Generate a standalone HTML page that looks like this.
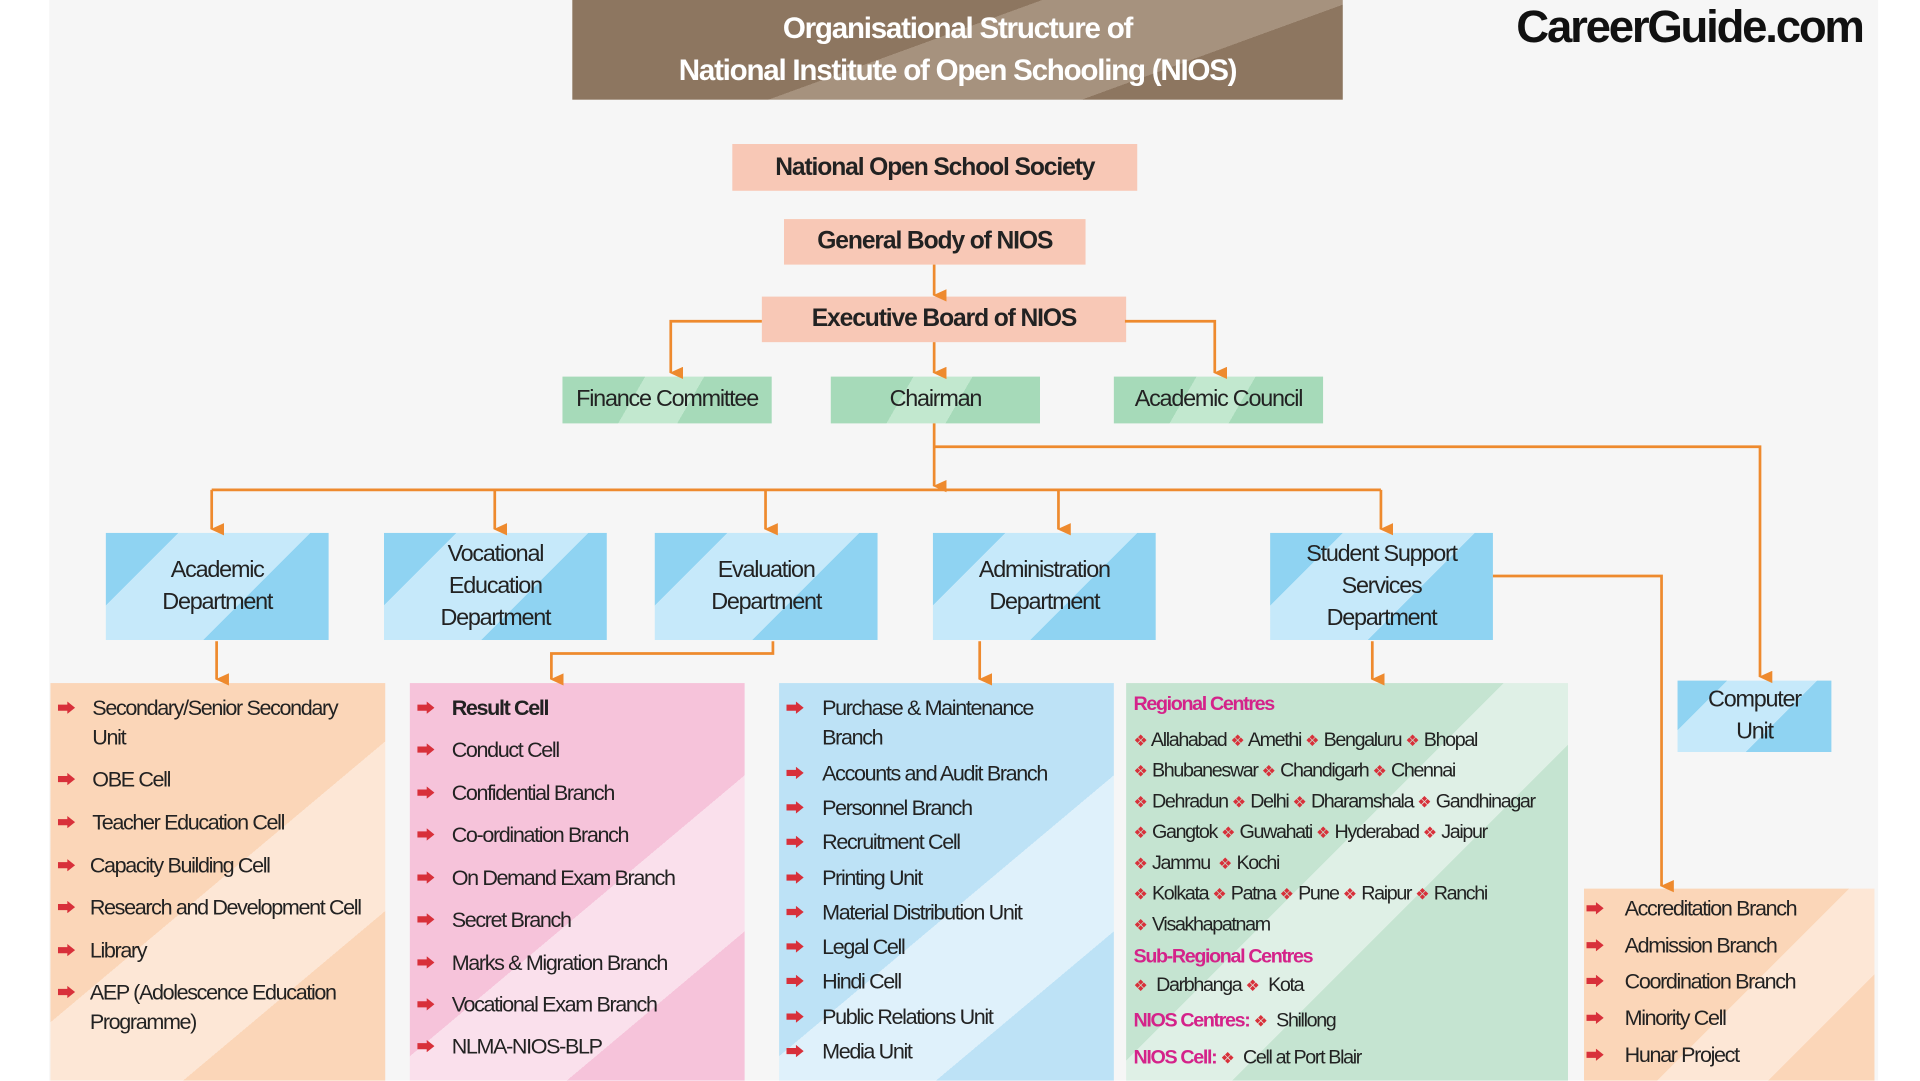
<!DOCTYPE html>
<html><head><meta charset="utf-8"><style>
html,body{margin:0;padding:0;width:1920px;height:1080px;overflow:hidden;background:#fff;}
#c{position:absolute;left:0;top:0;width:1560px;height:878px;transform:scale(1.23077);transform-origin:0 0;font-family:"Liberation Sans Narrow","Liberation Sans",sans-serif;color:#222;}
.a{position:absolute;}
.bx{position:absolute;display:flex;align-items:center;justify-content:center;text-align:center;}
.pe{background:#f8c8b6;font-weight:bold;font-size:20px;letter-spacing:-0.9px;}
.gr{background:linear-gradient(120deg,#a6dab9 0 35%,#c2e8cf 35% 60%,#a6dab9 60%);font-size:19px;letter-spacing:-1px;}
.bl{background:linear-gradient(135deg,#8fd3f2 0 22%,#c6e9fa 22% 62%,#8fd3f2 62%);font-size:19px;line-height:26px;letter-spacing:-1px;}
.t{position:absolute;font-size:17.5px;letter-spacing:-1.1px;white-space:nowrap;line-height:24px;}
.ar{position:absolute;width:14px;height:10px;background:#d8303a;clip-path:polygon(0 25%,55% 25%,55% 0,100% 50%,55% 100%,55% 75%,0 75%);}
.m{color:#d4238a;font-weight:bold;}
.d{color:#d8303a;font-size:13px;letter-spacing:0}
</style></head><body><div id="c">
<div class="a" style="left:40px;top:0;width:1486px;height:878px;background:#f6f6f6"></div>
<div class="bx" style="left:465px;top:0;width:626px;height:81px;background:linear-gradient(160deg,#8d7660 0 45%,#a6927e 45% 75%,#8d7660 75%);color:#fff;font-size:24px;line-height:34px;font-weight:bold;letter-spacing:-1px">Organisational Structure of<br>National Institute of Open Schooling (NIOS)</div>
<div class="a" style="left:1232px;top:0;font-family:'Liberation Sans',sans-serif;font-weight:bold;font-size:37px;letter-spacing:-1.8px;color:#111;line-height:44px">CareerGuide.com</div>

<div class="bx pe" style="left:595px;top:117px;width:329px;height:38px">National Open School Society</div>
<div class="bx pe" style="left:637px;top:178px;width:245px;height:37px">General Body of NIOS</div>
<div class="bx pe" style="left:619px;top:241px;width:296px;height:37px">Executive Board of NIOS</div>
<div class="bx gr" style="left:457px;top:306px;width:170px;height:38px">Finance Committee</div>
<div class="bx gr" style="left:675px;top:306px;width:170px;height:38px">Chairman</div>
<div class="bx gr" style="left:905px;top:306px;width:170px;height:38px">Academic Council</div>

<div class="bx bl" style="left:86px;top:433px;width:181px;height:87px">Academic<br>Department</div>
<div class="bx bl" style="left:312px;top:433px;width:181px;height:87px">Vocational<br>Education<br>Department</div>
<div class="bx bl" style="left:532px;top:433px;width:181px;height:87px">Evaluation<br>Department</div>
<div class="bx bl" style="left:758px;top:433px;width:181px;height:87px">Administration<br>Department</div>
<div class="bx bl" style="left:1032px;top:433px;width:181px;height:87px">Student Support<br>Services<br>Department</div>
<div class="bx bl" style="left:1363px;top:553px;width:125px;height:58px">Computer<br>Unit</div>

<div class="a" style="left:41px;top:555px;width:272px;height:323px;background:linear-gradient(140deg,#fbd6b8 0 50%,#fde7d6 50% 75%,#fbd6b8 75%)"></div>
<div class="a" style="left:333px;top:555px;width:272px;height:323px;background:linear-gradient(140deg,#f6c3da 0 55%,#fae0ec 55% 78%,#f6c3da 78%)"></div>
<div class="a" style="left:633px;top:555px;width:272px;height:323px;background:linear-gradient(140deg,#bde2f6 0 55%,#dff1fb 55% 78%,#bde2f6 78%)"></div>
<div class="a" style="left:915px;top:555px;width:359px;height:323px;background:linear-gradient(135deg,#c5e4d1 0 45%,#dff0e6 45% 60%,#c5e4d1 60%)"></div>
<div class="a" style="left:1287px;top:722px;width:236px;height:156px;background:linear-gradient(135deg,#fbd6b8 0 55%,#fde7d6 55% 78%,#fbd6b8 78%)"></div>

<svg class="a" style="left:0;top:0" width="1560" height="878">
<defs><marker id="h" markerWidth="12" markerHeight="12" refX="5" refY="10" orient="auto" markerUnits="userSpaceOnUse"><path d="M0,0 L10,0 L5,11 z" fill="#ee8a2e"/></marker></defs>
<g stroke="#ee8a2e" stroke-width="2.2" fill="none">
<path d="M759,215 V240" marker-end="url(#h)"/>
<path d="M619,261 H545 V303" marker-end="url(#h)"/>
<path d="M914,261 H987 V303" marker-end="url(#h)"/>
<path d="M759,278 V303" marker-end="url(#h)"/>
<path d="M759,344 V395" marker-end="url(#h)"/>
<path d="M759,363 H1430 V550" marker-end="url(#h)"/>
<path d="M172,398 H1122"/>
<path d="M172,398 V430" marker-end="url(#h)"/>
<path d="M402,398 V430" marker-end="url(#h)"/>
<path d="M622,398 V430" marker-end="url(#h)"/>
<path d="M860,398 V430" marker-end="url(#h)"/>
<path d="M1122,398 V430" marker-end="url(#h)"/>
<path d="M1213,468 H1350 V720" marker-end="url(#h)"/>
<path d="M176,521 V552" marker-end="url(#h)"/>
<path d="M628,521 V531 H448 V552" marker-end="url(#h)"/>
<path d="M796,521 V552" marker-end="url(#h)"/>
<path d="M1115,521 V552" marker-end="url(#h)"/>
</g></svg>

<!-- Academic -->
<div class="ar" style="left:47px;top:570px"></div><div class="t" style="left:75px;top:563px">Secondary/Senior Secondary<br>Unit</div>
<div class="ar" style="left:47px;top:628px"></div><div class="t" style="left:75px;top:621px">OBE Cell</div>
<div class="ar" style="left:47px;top:663px"></div><div class="t" style="left:75px;top:656px">Teacher Education Cell</div>
<div class="ar" style="left:47px;top:698px"></div><div class="t" style="left:73px;top:691px">Capacity Building Cell</div>
<div class="ar" style="left:47px;top:732px"></div><div class="t" style="left:73px;top:725px">Research and Development Cell</div>
<div class="ar" style="left:47px;top:767px"></div><div class="t" style="left:73px;top:760px">Library</div>
<div class="ar" style="left:47px;top:801px"></div><div class="t" style="left:73px;top:794px">AEP (Adolescence Education<br>Programme)</div>
<!-- Evaluation -->
<div class="ar" style="left:339px;top:570px"></div><div class="t" style="left:367px;top:563px;font-weight:bold">Result Cell</div>
<div class="ar" style="left:339px;top:604px"></div><div class="t" style="left:367px;top:597px">Conduct Cell</div>
<div class="ar" style="left:339px;top:639px"></div><div class="t" style="left:367px;top:632px">Confidential Branch</div>
<div class="ar" style="left:339px;top:673px"></div><div class="t" style="left:367px;top:666px">Co-ordination Branch</div>
<div class="ar" style="left:339px;top:708px"></div><div class="t" style="left:367px;top:701px">On Demand Exam Branch</div>
<div class="ar" style="left:339px;top:742px"></div><div class="t" style="left:367px;top:735px">Secret Branch</div>
<div class="ar" style="left:339px;top:777px"></div><div class="t" style="left:367px;top:770px">Marks &amp; Migration Branch</div>
<div class="ar" style="left:339px;top:811px"></div><div class="t" style="left:367px;top:804px">Vocational Exam Branch</div>
<div class="ar" style="left:339px;top:845px"></div><div class="t" style="left:367px;top:838px">NLMA-NIOS-BLP</div>
<!-- Admin -->
<div class="ar" style="left:639px;top:570px"></div><div class="t" style="left:668px;top:563px">Purchase &amp; Maintenance<br>Branch</div>
<div class="ar" style="left:639px;top:623px"></div><div class="t" style="left:668px;top:616px">Accounts and Audit Branch</div>
<div class="ar" style="left:639px;top:651px"></div><div class="t" style="left:668px;top:644px">Personnel Branch</div>
<div class="ar" style="left:639px;top:679px"></div><div class="t" style="left:668px;top:672px">Recruitment Cell</div>
<div class="ar" style="left:639px;top:708px"></div><div class="t" style="left:668px;top:701px">Printing Unit</div>
<div class="ar" style="left:639px;top:736px"></div><div class="t" style="left:668px;top:729px">Material Distribution Unit</div>
<div class="ar" style="left:639px;top:764px"></div><div class="t" style="left:668px;top:757px">Legal Cell</div>
<div class="ar" style="left:639px;top:792px"></div><div class="t" style="left:668px;top:785px">Hindi Cell</div>
<div class="ar" style="left:639px;top:821px"></div><div class="t" style="left:668px;top:814px">Public Relations Unit</div>
<div class="ar" style="left:639px;top:849px"></div><div class="t" style="left:668px;top:842px">Media Unit</div>
<!-- Student support -->
<div class="t" style="left:921px;top:561px;font-size:16px"><span class="m">Regional Centres</span></div>
<div class="t" style="left:921px;top:590px;font-size:16px"><span class="d">❖</span> Allahabad <span class="d">❖</span> Amethi <span class="d">❖</span> Bengaluru <span class="d">❖</span> Bhopal</div>
<div class="t" style="left:921px;top:615px;font-size:16px"><span class="d">❖</span> Bhubaneswar <span class="d">❖</span> Chandigarh <span class="d">❖</span> Chennai</div>
<div class="t" style="left:921px;top:640px;font-size:16px"><span class="d">❖</span> Dehradun <span class="d">❖</span> Delhi <span class="d">❖</span> Dharamshala <span class="d">❖</span> Gandhinagar</div>
<div class="t" style="left:921px;top:665px;font-size:16px"><span class="d">❖</span> Gangtok <span class="d">❖</span> Guwahati <span class="d">❖</span> Hyderabad <span class="d">❖</span> Jaipur</div>
<div class="t" style="left:921px;top:690px;font-size:16px"><span class="d">❖</span> Jammu &nbsp;<span class="d">❖</span> Kochi</div>
<div class="t" style="left:921px;top:715px;font-size:16px"><span class="d">❖</span> Kolkata <span class="d">❖</span> Patna <span class="d">❖</span> Pune <span class="d">❖</span> Raipur <span class="d">❖</span> Ranchi</div>
<div class="t" style="left:921px;top:740px;font-size:16px"><span class="d">❖</span> Visakhapatnam</div>
<div class="t" style="left:921px;top:766px;font-size:16px"><span class="m">Sub-Regional Centres</span></div>
<div class="t" style="left:921px;top:789px;font-size:16px"><span class="d">❖</span>&nbsp; Darbhanga <span class="d">❖</span>&nbsp; Kota</div>
<div class="t" style="left:921px;top:818px;font-size:16px"><span class="m">NIOS Centres:</span> <span class="d">❖</span>&nbsp; Shillong</div>
<div class="t" style="left:921px;top:848px;font-size:16px"><span class="m">NIOS Cell:</span> <span class="d">❖</span>&nbsp; Cell at Port Blair</div>
<!-- Branches -->
<div class="ar" style="left:1289px;top:733px"></div><div class="t" style="left:1320px;top:726px">Accreditation Branch</div>
<div class="ar" style="left:1289px;top:763px"></div><div class="t" style="left:1320px;top:756px">Admission Branch</div>
<div class="ar" style="left:1289px;top:792px"></div><div class="t" style="left:1320px;top:785px">Coordination Branch</div>
<div class="ar" style="left:1289px;top:822px"></div><div class="t" style="left:1320px;top:815px">Minority Cell</div>
<div class="ar" style="left:1289px;top:852px"></div><div class="t" style="left:1320px;top:845px">Hunar Project</div>
</div></body></html>
